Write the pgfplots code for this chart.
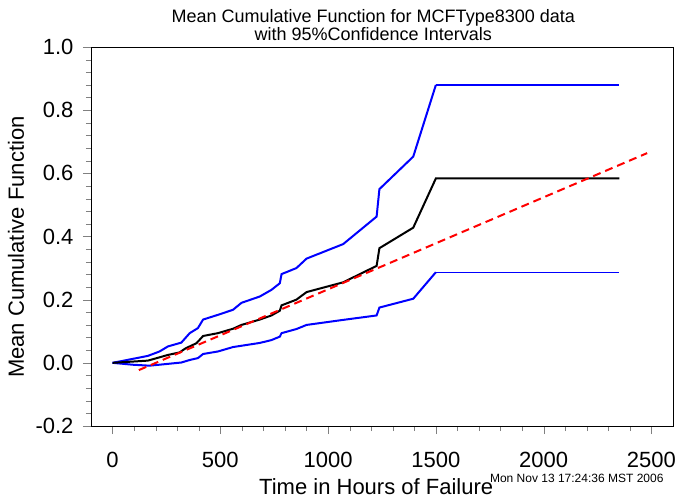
\documentclass[border=0pt]{standalone}
\usepackage{pgfplots}
\pgfplotsset{compat=1.18}
\usepackage{fontspec}
\setmainfont{Liberation Sans}
\begin{document}
\begin{tikzpicture}
\begin{axis}[
  scale only axis, width=582pt, height=379pt,
  xmin=-100, xmax=2600, ymin=-0.2, ymax=1.0,
  xtick={0,500,1000,1500,2000,2500},
  ytick={-0.2,0,0.2,0.4,0.6,0.8,1.0},
  minor tick num=4,
  tick pos=left, tick align=outside,
  major tick length=8pt, minor tick length=5pt,
  /pgf/number format/assume math mode=true,
  /pgf/number format/1000 sep={},
  yticklabel style={/pgf/number format/.cd, fixed, fixed zerofill, precision=1, /tikz/.cd, xshift=-6pt},
  xticklabel style={yshift=-15pt},
  tick label style={font=\fontsize{22}{26}\selectfont},
  xlabel={Time in Hours of Failure},
  ylabel={Mean Cumulative Function},
  label style={font=\fontsize{22}{26}\selectfont},
  xlabel style={at={(axis description cs:0.49,-0.161)}, anchor=center},
  ylabel style={at={(axis description cs:-0.1289,0.472)}, anchor=center},
  clip=false,
]
% upper confidence limit
\addplot[blue, line width=2pt] coordinates {
(0,0) (164,0.022) (218,0.036) (257,0.052) (319,0.064) (358,0.094) (396,0.110)
(420,0.137) (489,0.152) (559,0.168) (598,0.190) (683,0.210) (737,0.231) (776,0.252)
(784,0.281) (853,0.300) (900,0.330) (1070,0.376) (1225,0.463) (1238,0.550)
(1395,0.653) (1500,0.880)};
\addplot[blue, line width=1.3pt] coordinates {(1500,0.880) (2351,0.880)};
% lower confidence limit
\addplot[blue, line width=2pt] coordinates {
(0,0) (94,-0.006) (172,-0.009) (319,0.001) (358,0.009) (396,0.015) (420,0.028)
(489,0.036) (559,0.050) (683,0.063) (737,0.072) (776,0.083) (784,0.094) (853,0.107)
(900,0.120) (1070,0.136) (1225,0.150) (1238,0.175) (1395,0.203) (1500,0.287)};
\addplot[blue, line width=1.3pt] coordinates {(1500,0.287) (2351,0.287)};
% MCF
\addplot[black, line width=2pt] coordinates {
(0,0) (164,0.007) (257,0.025) (311,0.033) (339,0.046) (389,0.062) (404,0.073)
(420,0.085) (489,0.094) (559,0.108) (598,0.120) (683,0.137) (737,0.150) (776,0.165)
(784,0.182) (853,0.200) (900,0.224) (1070,0.255) (1225,0.307) (1238,0.363)
(1395,0.428) (1500,0.584) (2351,0.584)};
% linear fit
\addplot[red, line width=2pt, dash pattern=on 8pt off 5pt] coordinates {
(122,-0.023) (2480,0.664)};
\node[align=center, font=\fontsize{18}{16}\selectfont] at (axis description cs:0.485,1.058)
  {Mean Cumulative Function for MCFType8300 data\\with 95\%Confidence Intervals};
\node[anchor=east, font=\fontsize{12}{14}\selectfont] at (axis description cs:0.9897,-0.137)
  {Mon Nov 13 17:24:36 MST 2006};
\end{axis}
\pgfresetboundingbox
\path[use as bounding box] ([shift={(-91pt,-73pt)}]current axis.south west) rectangle ++(678pt,499pt);
\end{tikzpicture}
\end{document}
